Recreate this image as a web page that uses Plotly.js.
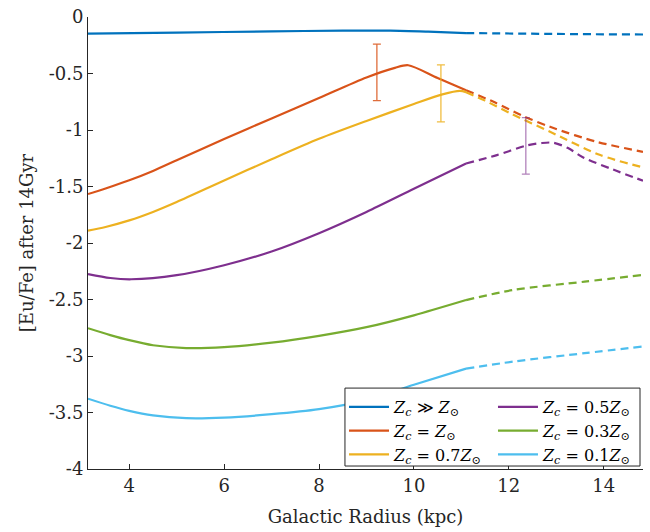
<!DOCTYPE html>
<html>
<head>
<meta charset="utf-8">
<script src="https://cdn.plot.ly/plotly-3.0.1.min.js"></script>
<style>html,body{margin:0;padding:0;background:#fff;}#chart{width:650px;height:532px;}</style>
</head>
<body>
<div id="chart"></div>
<script>
// ---- data ----
const seriesNames = [
  "<i>Z<sub>c</sub></i> ≫ <i>Z</i><sub>⊙</sub>",
  "<i>Z<sub>c</sub></i> = <i>Z</i><sub>⊙</sub>",
  "<i>Z<sub>c</sub></i> = 0.7<i>Z</i><sub>⊙</sub>",
  "<i>Z<sub>c</sub></i> = 0.5<i>Z</i><sub>⊙</sub>",
  "<i>Z<sub>c</sub></i> = 0.3<i>Z</i><sub>⊙</sub>",
  "<i>Z<sub>c</sub></i> = 0.1<i>Z</i><sub>⊙</sub>"
];
const seriesColors = ["#0072BD", "#D95319", "#EDB120", "#7E2F8E", "#77AC30", "#4DBEEE"];
const legendGroup = ["legend", "legend", "legend", "legend2", "legend2", "legend2"];

// solid (model) parts
const xBlue   = [3.13, 5.0, 7.0, 8.5, 9.5, 10.3, 11.1];
const yBlue   = [-0.147, -0.138, -0.127, -0.121, -0.121, -0.13, -0.142];
const xOrange = [3.13, 3.5, 4.0, 4.5, 5.0, 6.0, 7.0, 8.0, 9.0, 9.6, 9.88, 10.5, 11.1];
const yOrange = [-1.567, -1.518, -1.445, -1.362, -1.268, -1.079, -0.898, -0.717, -0.535, -0.45, -0.427, -0.54, -0.648];
const xYellow = [3.13, 3.5, 4.0, 4.5, 5.0, 6.0, 7.0, 8.0, 9.0, 10.0, 10.6, 10.97, 11.1];
const yYellow = [-1.891, -1.858, -1.8, -1.725, -1.637, -1.447, -1.259, -1.078, -0.92, -0.77, -0.685, -0.654, -0.665];
const xPurple = [3.13, 3.6, 4.04, 5.0, 6.0, 7.0, 8.0, 9.0, 10.0, 11.1];
const yPurple = [-2.275, -2.31, -2.321, -2.285, -2.197, -2.075, -1.913, -1.725, -1.52, -1.296];
const xGreen  = [3.13, 3.6, 4.0, 4.5, 5.2, 6.0, 7.0, 8.0, 9.0, 10.0, 11.1];
const yGreen  = [-2.754, -2.815, -2.86, -2.905, -2.93, -2.922, -2.882, -2.822, -2.745, -2.64, -2.505];
const xCyan   = [3.13, 3.6, 4.0, 4.5, 5.2, 6.0, 7.0, 8.0, 9.0, 10.0, 11.1];
const yCyan   = [-3.378, -3.44, -3.485, -3.525, -3.55, -3.545, -3.515, -3.47, -3.39, -3.255, -3.112];

// dashed (extrapolated) parts
const xBlueD   = [11.1, 13.0, 14.83];
const yBlueD   = [-0.142, -0.15, -0.155];
const xOrangeD = [11.1, 11.68, 12.31, 12.87, 13.86, 14.83];
const yOrangeD = [-0.648, -0.751, -0.878, -0.972, -1.105, -1.193];
const xYellowD = [11.1, 11.5, 12.04, 12.87, 13.93, 14.83];
const yYellowD = [-0.665, -0.74, -0.854, -1.016, -1.222, -1.331];
const xPurpleD = [11.1, 11.75, 12.38, 12.7, 12.95, 13.25, 13.58, 14.2, 14.83];
const yPurpleD = [-1.296, -1.222, -1.137, -1.115, -1.113, -1.16, -1.245, -1.35, -1.449];
const xGreenD  = [11.1, 12.1, 13.6, 14.83];
const yGreenD  = [-2.505, -2.415, -2.342, -2.283];
const xCyanD   = [11.1, 12.1, 13.6, 14.83];
const yCyanD   = [-3.112, -3.049, -2.975, -2.916];

// error bars
const xErr = [9.22, 10.57, 12.36];
const yErr = [-0.49, -0.676, -1.14];
const eErr = [0.25, 0.252, 0.25];
const errColors = ["rgba(217,83,25,0.85)", "rgba(237,177,32,0.85)", "rgba(126,47,142,0.6)"];

// ticks
const xTickVals = [4, 6, 8, 10, 12, 14];
const xTickText = ["4", "6", "8", "10", "12", "14"];
const yTickVals = [0, -0.5, -1, -1.5, -2, -2.5, -3, -3.5, -4];
const yTickText = ["0", "-0.5", "-1", "-1.5", "-2", "-2.5", "-3", "-3.5", "-4"];

// ---- traces ----
const solidX = [xBlue, xOrange, xYellow, xPurple, xGreen, xCyan];
const solidY = [yBlue, yOrange, yYellow, yPurple, yGreen, yCyan];
const dashX = [xBlueD, xOrangeD, xYellowD, xPurpleD, xGreenD, xCyanD];
const dashY = [yBlueD, yOrangeD, yYellowD, yPurpleD, yGreenD, yCyanD];

const traces = [];
for (let i = 0; i < 6; i++) {
  traces.push({
    x: solidX[i], y: solidY[i], type: "scatter", mode: "lines",
    name: seriesNames[i], legend: legendGroup[i],
    line: {color: seriesColors[i], width: 2.2, shape: "spline", smoothing: 0.8},
    hoverinfo: "skip"
  });
  traces.push({
    x: dashX[i], y: dashY[i], type: "scatter", mode: "lines",
    showlegend: false,
    line: {color: seriesColors[i], width: 2.2, shape: "spline", smoothing: 0.8, dash: "8px,5px"},
    hoverinfo: "skip"
  });
}
for (let k = 0; k < xErr.length; k++) {
  traces.push({
    x: [xErr[k]], y: [yErr[k]], type: "scatter", mode: "markers",
    showlegend: false,
    marker: {size: 1, opacity: 0},
    error_y: {type: "data", array: [eErr[k]], visible: true, color: errColors[k], thickness: 1.3, width: 4},
    hoverinfo: "skip"
  });
}

const serif = "DejaVu Serif";
const legendCommon = {
  orientation: "v", yanchor: "top", xanchor: "left",
  bgcolor: "rgba(0,0,0,0)", borderwidth: 0,
  font: {family: serif, size: 16, color: "#000000"},
  tracegroupgap: 0, itemwidth: 40
};
const layout = {
  width: 650, height: 532,
  margin: {l: 88, r: 7, t: 17, b: 63},
  paper_bgcolor: "#ffffff", plot_bgcolor: "#ffffff",
  font: {family: serif, size: 18, color: "#262626"},
  showlegend: true,
  legend: Object.assign({}, legendCommon, {x: 0.4613, y: 0.175}),
  legend2: Object.assign({}, legendCommon, {x: 0.7297, y: 0.175}),
  shapes: [{
    type: "rect", xref: "paper", yref: "paper", layer: "above",
    x0: 0.463, x1: 0.9946, y0: 0.0066, y1: 0.179,
    fillcolor: "#ffffff", line: {color: "#262626", width: 1}
  }],
  xaxis: {
    range: [3.13, 14.83], tickvals: xTickVals, ticktext: xTickText,
    ticks: "inside", ticklen: 5, tickwidth: 1, tickcolor: "#262626",
    showline: true, linecolor: "#262626", linewidth: 1, mirror: false,
    showgrid: false, zeroline: false,
    tickfont: {family: serif, size: 18, color: "#262626"},
    title: {text: "Galactic Radius (kpc)", font: {family: serif, size: 18, color: "#262626"}, standoff: 15}
  },
  yaxis: {
    range: [-4, 0], tickvals: yTickVals, ticktext: yTickText,
    ticks: "inside", ticklen: 5, tickwidth: 1, tickcolor: "#262626",
    showline: true, linecolor: "#262626", linewidth: 1, mirror: false,
    showgrid: false, zeroline: false,
    tickfont: {family: serif, size: 18, color: "#262626"},
    title: {text: "[Eu/Fe] after 14Gyr", font: {family: serif, size: 18, color: "#262626"}, standoff: 10}
  }
};

Plotly.newPlot("chart", traces, layout, {displayModeBar: false, staticPlot: true});
</script>
</body>
</html>
